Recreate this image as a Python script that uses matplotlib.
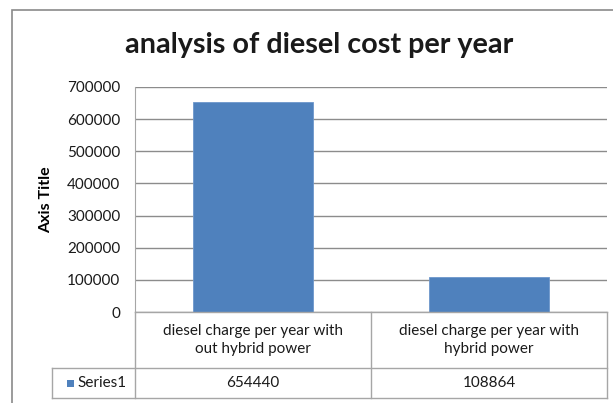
import matplotlib
matplotlib.use("Agg")
import matplotlib.pyplot as plt
from matplotlib.patches import Rectangle
from matplotlib.lines import Line2D

categories = ["diesel charge per year with\nout hybrid power",
              "diesel charge per year with\nhybrid power"]
values = [654440, 108864]
series_name = "Series1"
yticks = [0, 100000, 200000, 300000, 400000, 500000, 600000, 700000]
title = "analysis of diesel cost per year"
ylabel = "Axis Title"

W, H = 613, 403
fig = plt.figure(figsize=(W / 100, H / 100), dpi=100)
plt.rcParams['font.family'] = ['Lato', 'DejaVu Sans']

def px(l, t, r, b):
    return [l / W, 1 - b / H, (r - l) / W, (b - t) / H]

grid_c = "#8c8c8c"
line_c = "#a6a6a6"
txt_c = "#1a1a1a"
fs = 11

# outer chart frame
fig.patches.append(Rectangle((12 / W, -0.1), 1.2, 1 - 10 / H + 0.1, transform=fig.transFigure,
                             fill=False, edgecolor="#8a8a8a", linewidth=1.2))

pl, pt, pr, pb = 135, 87, 607, 312
ax = fig.add_axes(px(pl, pt, pr, pb))
x = list(range(len(categories)))
ax.bar(x, values, width=0.51, color="#4F81BD", edgecolor="#6d97cc", linewidth=0.6, zorder=3)
ax.set_xlim(-0.5, len(categories) - 0.5)
ax.set_ylim(0, 700000)
ax.set_yticks(yticks)
ax.set_yticklabels([str(v) for v in yticks], fontsize=fs, color=txt_c)
ax.tick_params(axis="y", length=0, pad=10.5)
ax.set_xticks([])
ax.yaxis.grid(True, color=grid_c, linewidth=1.0, zorder=0)
for s in ["top", "right", "bottom"]:
    ax.spines[s].set_visible(False)
ax.spines["left"].set_color(line_c)
ax.set_ylabel(ylabel, fontsize=11.5, fontweight="bold", labelpad=10)

fig.text(319 / W, 1 - 45 / H, title, ha="center", va="center", fontsize=20.7, fontweight="bold",
         color=txt_c)

# data table
colx = [pl, 371, pr]
def hline(x0, x1, y):
    fig.add_artist(Line2D([x0 / W, x1 / W], [1 - y / H, 1 - y / H], color=line_c, linewidth=1.0))
def vline(xx, y0, y1):
    fig.add_artist(Line2D([xx / W, xx / W], [1 - y0 / H, 1 - y1 / H], color=line_c, linewidth=1.0))

hline(pl, pr, 312)
hline(52, pr, 368)
hline(52, pr, 398)
vline(pl, 312, 398)
vline(371, 312, 398)
vline(pr, 312, 398)
vline(52, 368, 398)

for i, c in enumerate(categories):
    cx = (colx[i] + colx[i + 1]) / 2
    fig.text(cx / W, 1 - 340 / H, c, ha="center", va="center", fontsize=fs,
             color=txt_c, linespacing=1.3)
    fig.text(cx / W, 1 - 383 / H, str(values[i]), ha="center", va="center", fontsize=fs,
             color=txt_c)

fig.patches.append(Rectangle((67 / W, 1 - 387 / H), 7 / W, 7 / H, transform=fig.transFigure,
                             facecolor="#4F81BD", edgecolor="none"))
fig.text(77 / W, 1 - 383 / H, series_name, ha="left", va="center", fontsize=fs, color=txt_c)

fig.savefig("out.png", dpi=100)
